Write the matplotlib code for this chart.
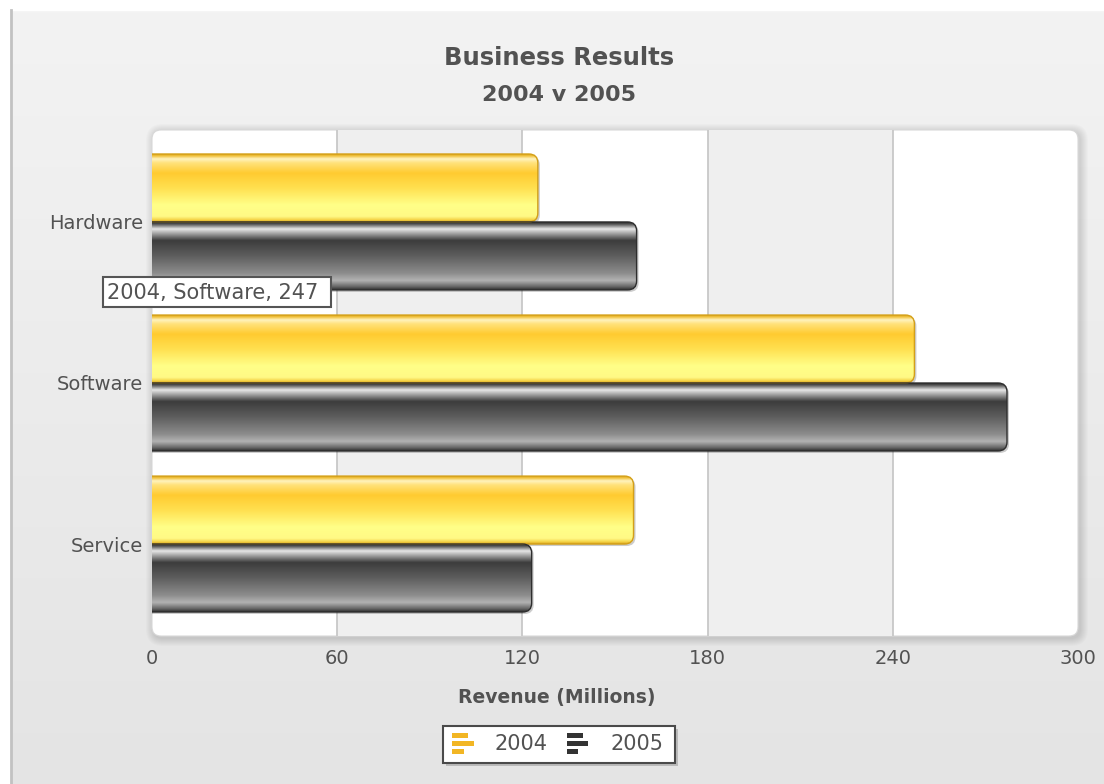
import numpy as np
import matplotlib
matplotlib.use("Agg")
import matplotlib.pyplot as plt
from matplotlib.patches import FancyBboxPatch, Rectangle
from matplotlib.colors import to_rgb

# ---------------- data ----------------
categories = ["Hardware", "Software", "Service"]
series_names = ["2004", "2005"]
values_2004 = [125, 247, 156]
values_2005 = [157, 277, 123]
x_ticks = [0, 60, 120, 180, 240, 300]
title = "Business Results"
subtitle = "2004 v 2005"
x_title = "Revenue (Millions)"
tooltip_text = "2004, Software, 247"

# ---------------- styling ----------------
W, H = 1104, 784
TXT = "#525252"
plt.rcParams['font.family'] = ['DejaVu Sans']

fig = plt.figure(figsize=(W / 100, H / 100), dpi=100)


def fx(px):
    return px / W


def fy(py):
    return 1 - py / H


def gradient(stops, n=256):
    pos = np.array([s[0] for s in stops])
    cols = np.array([to_rgb(s[1]) for s in stops])
    t = np.linspace(0, 1, n)
    return np.stack([np.interp(t, pos, cols[:, k]) for k in range(3)], axis=1)


# ---------------- background ----------------
bg = fig.add_axes([0, 0, 1, 1], zorder=0)
bg_img = gradient([(0, '#f3f3f3'), (1, '#e4e4e4')])
bg.imshow(bg_img[:, None, :], extent=(0, W, H, 10), aspect='auto', origin='upper')
bg.add_patch(Rectangle((0, 0), W, 10, color='white', zorder=2))
bg.add_patch(Rectangle((0, 0), 10, H, color='white', zorder=2))
bg.plot([11, 11], [10, H], color='#c2c2c2', lw=2, zorder=3)

L, R, T, B = 152, 1078, 130, 636
# soft shadow of plot panel
for i in range(8, 0, -1):
    bg.add_patch(FancyBboxPatch((L - i + 2, T - i + 2), (R - L) + 2 * i, (B - T) + 2 * i,
                                boxstyle="round,pad=0,rounding_size=%d" % (9 + i),
                                fc='black', ec='none', alpha=0.014, zorder=3))
bg.add_patch(FancyBboxPatch((L, T), R - L, B - T, boxstyle="round,pad=0,rounding_size=9",
                            fc='white', ec='#d8d8d8', lw=0.8, zorder=4))
bg.set_xlim(0, W)
bg.set_ylim(H, 0)
bg.axis('off')

# ---------------- main axes ----------------
ax = fig.add_axes([fx(L), fy(B), (R - L) / W, (B - T) / H], zorder=1)
ax.patch.set_alpha(0)
for s in ax.spines.values():
    s.set_visible(False)

xmax = x_ticks[-1]
ymarg = 0.571
ax.set_xlim(0, xmax)
ax.set_ylim(len(categories) - 1 + ymarg, -ymarg)

for a, b in zip(x_ticks[1::2], x_ticks[2::2]):
    ax.axvspan(a, b, color='#efefef', lw=0, zorder=0)
for t in x_ticks[1:-1]:
    ax.axvline(t, color='#c8c8c8', lw=1.3, zorder=0.5)

ppx = (R - L) / xmax
ppy = (B - T) / (len(categories) - 1 + 2 * ymarg)
rad_px = 9
rsize = rad_px / ppx
maspect = (rad_px / ppy) / rsize

yellow_stops = [(0.0, '#d9a520'), (0.025, '#f2c23c'), (0.07, '#fff3c0'), (0.13, '#ffe27a'),
                (0.28, '#ffcb30'), (0.5, '#ffe050'), (0.75, '#ffff88'), (0.92, '#fff985'),
                (0.97, '#f5d245'), (1.0, '#d6a21c')]
dark_stops = [(0.0, '#2a2a2a'), (0.03, '#555555'), (0.1, '#e8e8e8'), (0.17, '#a0a0a0'),
              (0.27, '#3c3c3c'), (0.5, '#5e5e5e'), (0.75, '#8c8c8c'), (0.86, '#b2b2b2'),
              (0.95, '#686868'), (1.0, '#2e2e2e')]
series = [
    (values_2004, gradient(yellow_stops), '#d4a018'),
    (values_2005, gradient(dark_stops), '#2e2e2e'),
]
bar_h = 0.422
x_start = -3 * rsize
for si, (vals, grad, edge) in enumerate(series):
    for ci, v in enumerate(vals):
        y0 = ci - bar_h + si * bar_h
        # shadow
        sh = FancyBboxPatch((x_start + 2 / ppx, y0 + 2 / ppy), v - x_start, bar_h,
                            boxstyle="round,pad=0,rounding_size=%f" % rsize,
                            mutation_aspect=maspect, fc='black', ec='none', alpha=0.2, zorder=2)
        ax.add_patch(sh)
        p = FancyBboxPatch((x_start, y0), v - x_start, bar_h,
                           boxstyle="round,pad=0,rounding_size=%f" % rsize,
                           mutation_aspect=maspect, fc='none', ec=edge, lw=1.0, zorder=4)
        ax.add_patch(p)
        im = ax.imshow(grad[:, None, :], extent=(x_start, v, y0 + bar_h, y0),
                       aspect='auto', origin='upper', zorder=3, interpolation='bilinear')
        im.set_clip_path(p)

ax.set_xlim(0, xmax)
ax.set_ylim(len(categories) - 1 + ymarg, -ymarg)
ax.set_xticks(x_ticks)
ax.set_xticklabels([str(t) for t in x_ticks])
ax.set_yticks(range(len(categories)))
ax.set_yticklabels(categories)
ax.tick_params(axis='both', length=0, labelsize=14, labelcolor=TXT)
ax.tick_params(axis='x', pad=9)
ax.tick_params(axis='y', pad=6.5)

# ---------------- titles ----------------
fig.text(fx(559), fy(58), title, ha='center', va='center', fontsize=17.5,
         fontweight='bold', color=TXT)
fig.text(fx(559), fy(95), subtitle, ha='center', va='center', fontsize=16,
         fontweight='bold', color=TXT)
fig.text(fx(557), fy(698), x_title, ha='center', va='center', fontsize=13.5,
         fontweight='bold', color=TXT)

# ---------------- overlay: tooltip & legend ----------------
ov = fig.add_axes([0, 0, 1, 1], zorder=5)
ov.patch.set_alpha(0)
ov.set_xlim(0, W)
ov.set_ylim(H, 0)
ov.axis('off')

ov.add_patch(Rectangle((103, 277), 228, 30, fc='white', ec='#555555', lw=1.5))
ov.text(107, 292.5, tooltip_text, ha='left', va='center', fontsize=15, color=TXT)

# legend
ov.add_patch(Rectangle((446, 729), 232, 37, fc='#000000', ec='none', alpha=0.18))
ov.add_patch(Rectangle((443, 726), 232, 37, fc='white', ec='#4a4a4a', lw=1.5))
legend_cols = ['#f2b624', '#333333']
icon_x = [452, 567]
text_x = [495, 611]
icon_lens = [[16, 22, 12], [16, 21, 11]]
for name, c, ix, tx, lens in zip(series_names, legend_cols, icon_x, text_x, icon_lens):
    for ly, ll in zip([733, 741, 749], lens):
        ov.add_patch(Rectangle((ix, ly), ll, 5, fc=c, ec='none'))
    ov.text(tx, 744.5, name, ha='left', va='center', fontsize=15, color=TXT)

fig.savefig("out.png", dpi=100)
